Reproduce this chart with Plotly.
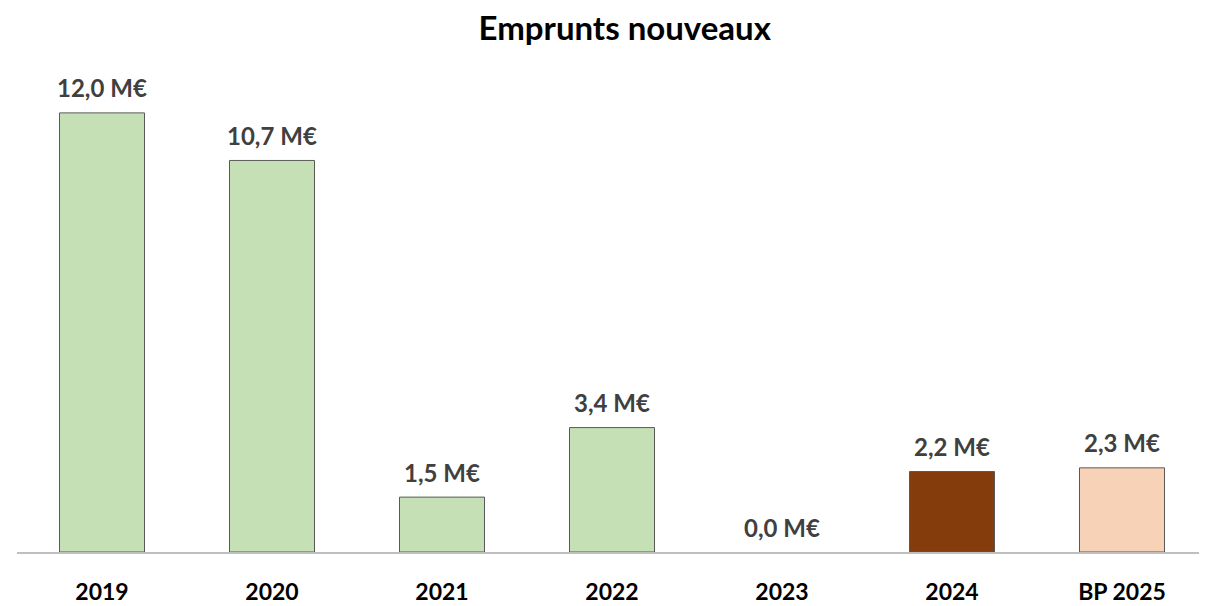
import plotly.graph_objects as go

# Data
years = ['2019', '2020', '2021', '2022', '2023', '2024', 'BP 2025']
emprunts = [12.0, 10.7, 1.5, 3.4, 0.0, 2.2, 2.3]
bar_colors = ['#C5E0B4', '#C5E0B4', '#C5E0B4', '#C5E0B4', '#C5E0B4', '#843C0C', '#F8D2B6']

labels = [f"{v:.1f}".replace('.', ',') + ' M€' for v in emprunts]

FONT = 'Lato, Open Sans, sans-serif'

fig = go.Figure()

fig.add_trace(go.Bar(
    x=years,
    y=emprunts,
    width=0.5,
    marker=dict(
        color=bar_colors,
        # no outline on empty bars so the axis stays clean
        line=dict(color='#595959', width=[1 if v > 0 else 0 for v in emprunts]),
    ),
    cliponaxis=False,
    hoverinfo='x+y',
))

# value labels above the bars (category index, since '2019' would be read as a number)
for i, (v, lab) in enumerate(zip(emprunts, labels)):
    fig.add_annotation(
        x=i, y=v, text=f'<b>{lab}</b>', showarrow=False,
        yanchor='middle', yshift=25,
        font=dict(family=FONT, size=24, color='#404040'),
    )

# the page body adds an 8px margin, margins below account for it
fig.update_layout(
    width=1207,
    height=606,
    title=dict(
        text='<b>Emprunts nouveaux</b>',
        x=0.511, xanchor='center',
        y=0.985, yanchor='top',
        font=dict(family=FONT, size=33, color='#000000'),
    ),
    margin=dict(l=9, r=8, t=50, b=62, autoexpand=False),
    plot_bgcolor='white',
    paper_bgcolor='white',
    showlegend=False,
    font=dict(family=FONT),
)

fig.update_xaxes(
    type='category', range=[-0.5, len(years) - 0.5],
    showline=True, linecolor='#BFBFBF', linewidth=2,
    ticks='', ticklabelstandoff=18, automargin=False,
    tickfont=dict(size=23, color='#000000', weight='bold'),
    showgrid=False,
)
fig.update_yaxes(
    range=[0, 13.5], visible=False, showgrid=False, zeroline=False,
)

fig.write_html("out.html")
